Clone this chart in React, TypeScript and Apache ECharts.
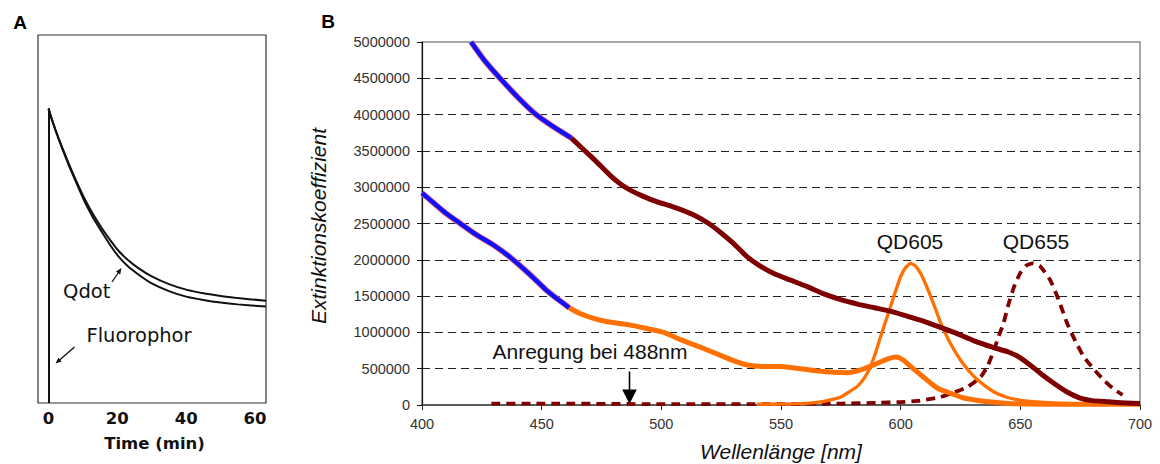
import React, { useEffect, useRef } from "react";
import * as echarts from "echarts";

// ---------- Panel A: decay over time (min) ----------
const timeTicks = [0, 20, 40, 60];
const qdotUpper: number[][] = [
  [0, 80], [1, 77], [2, 74.3], [3, 71.8], [4, 69.4], [6, 64.8], [8, 60.5], [10.6, 55.3],
  [13, 51.2], [15.5, 47.5], [18, 44.2], [20.2, 41.5], [23, 38.9], [26, 36.7], [30, 34.4],
  [35, 32.3], [40, 30.8], [45, 29.8], [50, 29.1], [55, 28.5], [63.2, 27.8],
];
const qdotLower: number[][] = [
  [0, 80], [1, 77], [2, 74.2], [3, 71.6], [4, 69.1], [6, 64.4], [8, 60], [10.6, 54.5],
  [13, 50.3], [15.5, 46.5], [18, 42.8], [20.2, 40], [23, 37.2], [26, 35], [30, 32.5],
  [35, 30.4], [40, 28.9], [45, 28], [50, 27.3], [55, 26.8], [63.2, 26.2],
];
const fluorophor: number[][] = [[0.15, 0], [0.15, 80]];

// ---------- Panel B: extinction spectra (nm) ----------
const wlMin = 400;
const wlMax = 700;
const wlStep = 50;
const extMax = 5000000;
const extStep = 500000;

const qd655AbsUv: number[][] = [
  [420.5, 5000000], [426, 4750000], [432.6, 4500000], [440, 4240000], [447.3, 4010000],
  [455, 3830000], [462.3, 3680000],
];
const qd655AbsVis: number[][] = [
  [462.3, 3680000], [466.8, 3540000], [472, 3380000], [478.7, 3160000], [483.5, 3030000],
  [487, 2960000], [492, 2880000], [498, 2800000], [504, 2740000], [509, 2680000],
  [514, 2610000], [519.8, 2500000], [525, 2370000], [530, 2230000], [535.9, 2040000],
  [541, 1920000], [547, 1810000], [554, 1720000], [561, 1630000], [567.9, 1530000],
  [575, 1450000], [582, 1390000], [589, 1340000], [596, 1290000], [603, 1220000],
  [610, 1150000], [616.7, 1070000], [622.3, 1000000], [631, 880000], [638, 800000],
  [645, 730000], [650, 650000], [655.7, 510000], [659, 420000], [664, 300000],
  [669, 190000], [675, 95000], [680, 60000], [687, 45000], [693, 30000], [700, 20000],
];
const qd605AbsUv: number[][] = [
  [400, 2920000], [405, 2780000], [410, 2640000], [416, 2500000], [422, 2360000],
  [430, 2200000], [437, 2030000], [445, 1800000], [452, 1580000], [457, 1450000],
  [461.5, 1340000],
];
const qd605AbsVis: number[][] = [
  [461.5, 1340000], [466, 1260000], [472, 1190000], [477, 1150000], [487, 1100000],
  [493, 1060000], [501, 1000000], [508, 900000], [516, 800000], [525, 680000],
  [531, 600000], [536, 550000], [542, 530000], [550, 530000], [558, 500000],
  [565, 470000], [572, 450000], [578, 445000], [583, 480000], [587, 530000],
  [592, 600000], [595, 640000], [598, 660000], [601, 620000], [605.6, 490000],
  [609, 400000], [612.6, 300000], [616, 220000], [621, 160000], [626, 100000],
  [631, 70000], [638, 40000], [645, 20000], [660, 12000], [680, 10000], [700, 10000],
];
const qd605Em: number[][] = [
  [540, 10000], [555, 15000], [562, 25000], [568, 50000], [572, 80000], [575, 110000],
  [578, 170000], [582, 260000], [585, 380000], [587.4, 530000], [589.5, 720000],
  [591.6, 940000], [593.7, 1150000], [595.8, 1360000], [598, 1580000], [600, 1770000],
  [602, 1890000], [604.2, 1950000], [606.3, 1910000], [608.4, 1810000], [610.5, 1660000],
  [612.6, 1490000], [614.7, 1310000], [616.7, 1130000], [619.5, 930000], [622.3, 760000],
  [626.5, 550000], [630.7, 390000], [635, 270000], [639, 180000], [644, 110000],
  [649, 70000], [655, 45000], [665, 25000], [680, 15000], [700, 10000],
];
const qd655Em: number[][] = [
  [429, 20000], [450, 20000], [500, 12000], [550, 12000], [575, 20000], [590, 30000],
  [600, 40000], [608, 60000], [616.7, 110000], [622, 170000], [628, 250000],
  [633.5, 390000], [636.5, 550000], [639, 760000], [641, 950000], [643, 1130000],
  [645, 1380000], [647.4, 1630000], [650, 1820000], [652.5, 1920000], [655.1, 1950000],
  [658, 1920000], [660, 1840000], [662.5, 1720000], [666, 1450000], [669.5, 1130000],
  [673, 880000], [676.4, 670000], [680, 520000], [685, 340000], [689, 220000],
  [692.7, 140000],
];

const MAROON = "#7f0000";
const ORANGE = "#ff7000";
const BLUE = "#1010ff";
const HALO = "#f07070";
const SANS = '"Liberation Sans", Arial, sans-serif';

function lineSeries(data: number[][], idx: number, color: string, width: number, extra: any = {}, smooth: number = 0.2) {
  return {
    type: "line",
    xAxisIndex: idx,
    yAxisIndex: idx,
    data,
    showSymbol: false,
    symbol: "none",
    silent: true,
    smooth,
    lineStyle: { color, width, ...extra },
  };
}

export default function App() {
  const ref = useRef<HTMLDivElement>(null);
  useEffect(() => {
    const chart = echarts.init(ref.current!, null, { renderer: "svg" });
    const option: any = {
      animation: false,
      backgroundColor: "#ffffff",
      grid: [
        { left: 38, top: 35, width: 228, height: 368, show: true, borderColor: "#333", borderWidth: 1.2 },
        { left: 422, top: 42, width: 718, height: 363, show: true, borderColor: "#8a8a8a", borderWidth: 1.5 },
      ],
      xAxis: [
        {
          type: "value", gridIndex: 0, min: -3.05, max: 63.2,
          axisLine: { show: false }, axisTick: { show: false }, splitLine: { show: false },
          axisLabel: {
            customValues: timeTicks, fontFamily: '"DejaVu Sans", sans-serif', fontWeight: "bold",
            fontSize: 16.5, color: "#111", margin: 7,
          },
        },
        {
          type: "value", gridIndex: 1, min: wlMin, max: wlMax, interval: wlStep,
          axisLine: { show: true, onZero: false, lineStyle: { color: "#444", width: 1.5 } },
          axisTick: { show: true, inside: false, length: 5, lineStyle: { color: "#222" } },
          splitLine: { show: false },
          axisLabel: { fontFamily: SANS, fontSize: 14.5, color: "#333", margin: 11 },
        },
      ],
      yAxis: [
        { type: "value", gridIndex: 0, min: 0, max: 100, show: false },
        {
          type: "value", gridIndex: 1, min: 0, max: extMax, interval: extStep,
          axisLine: { show: true, onZero: false, lineStyle: { color: "#111", width: 1.2 } },
          axisTick: { show: true, inside: false, length: 5, lineStyle: { color: "#111" } },
          splitLine: {
            show: true, showMinLine: false, showMaxLine: false,
            lineStyle: { color: "#222", type: [8, 5], width: 1 },
          },
          axisLabel: {
            fontFamily: SANS, fontSize: 14.5, color: "#333", margin: 12,
            formatter: (v: number) => String(v),
          },
        },
      ],
      series: [
        lineSeries(fluorophor, 0, "#111", 2, {}, 0),
        lineSeries(qdotUpper, 0, "#111", 2),
        lineSeries(qdotLower, 0, "#111", 2),
        lineSeries(qd655Em, 1, MAROON, 3.8, { type: [9, 6] }),
        lineSeries(qd605Em, 1, ORANGE, 3.3),
        lineSeries(qd605AbsVis, 1, ORANGE, 5),
        lineSeries(qd655AbsVis, 1, MAROON, 5),
        lineSeries(qd605AbsUv, 1, HALO, 6),
        lineSeries(qd655AbsUv, 1, HALO, 6),
        lineSeries(qd605AbsUv, 1, BLUE, 4.4),
        lineSeries(qd655AbsUv, 1, BLUE, 4.4),
      ],
      graphic: [
        { type: "text", x: 20, y: 22, style: { text: "A", font: `bold 19px ${SANS}`, fill: "#000", textAlign: "center", textVerticalAlign: "middle" } },
        { type: "text", x: 328, y: 21, style: { text: "B", font: `bold 19px ${SANS}`, fill: "#000", textAlign: "center", textVerticalAlign: "middle" } },
        { type: "text", x: 154.5, y: 443, style: { text: "Time (min)", font: 'bold 16.5px "DejaVu Sans", sans-serif', fill: "#111", textAlign: "center", textVerticalAlign: "middle" } },
        { type: "text", x: 86.7, y: 291, style: { text: "Qdot", font: '19.5px "DejaVu Sans", sans-serif', fill: "#111", textAlign: "center", textVerticalAlign: "middle" } },
        { type: "text", x: 139, y: 335.5, style: { text: "Fluorophor", font: '19.5px "DejaVu Sans", sans-serif', fill: "#111", textAlign: "center", textVerticalAlign: "middle" } },
        { type: "line", shape: { x1: 112, y1: 282, x2: 119.5, y2: 271 }, style: { stroke: "#111", lineWidth: 1.3 } },
        { type: "polygon", shape: { points: [[121.5, 268], [120.2, 274.4], [116.0, 271.6]] }, style: { fill: "#111" } },
        { type: "line", shape: { x1: 74.5, y1: 347, x2: 59, y2: 360.5 }, style: { stroke: "#111", lineWidth: 1.3 } },
        { type: "polygon", shape: { points: [[55.5, 363.5], [61.6, 361.5], [58.4, 357.7]] }, style: { fill: "#111" } },
        {
          type: "text", x: 318, y: 226, rotation: Math.PI / 2,
          style: { text: "Extinktionskoeffizient", font: `italic 21px ${SANS}`, fill: "#111", textAlign: "center", textVerticalAlign: "middle" },
        },
        { type: "text", x: 781, y: 451, style: { text: "Wellenlänge [nm]", font: `italic 21px ${SANS}`, fill: "#111", textAlign: "center", textVerticalAlign: "middle" } },
        { type: "text", x: 590, y: 351, style: { text: "Anregung bei 488nm", font: `21px ${SANS}`, fill: "#111", textAlign: "center", textVerticalAlign: "middle" } },
        { type: "text", x: 910, y: 241, style: { text: "QD605", font: `21px ${SANS}`, fill: "#111", textAlign: "center", textVerticalAlign: "middle" } },
        { type: "text", x: 1036, y: 241, style: { text: "QD655", font: `21px ${SANS}`, fill: "#111", textAlign: "center", textVerticalAlign: "middle" } },
        { type: "line", shape: { x1: 629.5, y1: 371.5, x2: 629.5, y2: 392 }, style: { stroke: "#000", lineWidth: 1.6 } },
        { type: "polygon", shape: { points: [[622.2, 389.5], [636.8, 389.5], [629.5, 404]] }, style: { fill: "#000" } },
      ],
    };
    chart.setOption(option);
    return () => chart.dispose();
  }, []);
  return (
    <div
      ref={ref}
      style={{ position: "fixed", left: 0, top: 0, width: 1160, height: 464, background: "#fff" }}
    />
  );
}
